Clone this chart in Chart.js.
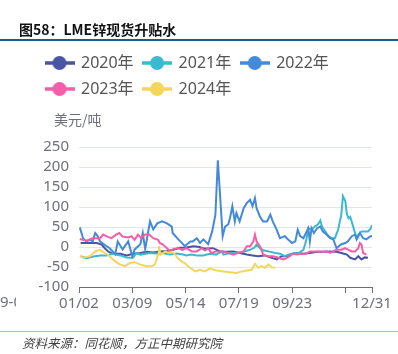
<!DOCTYPE html>
<html><head><meta charset="utf-8">
<script src="https://cdn.jsdelivr.net/npm/chart.js@4"></script>
<style>
html,body{margin:0;padding:0;background:#fff;}
#wrap{position:relative;width:398px;height:354px;overflow:hidden;background:#fff;}
#c{position:absolute;left:0;top:0;}
#title{position:absolute;left:19px;top:19px;font:bold 14px "Noto Sans CJK SC";color:#111;line-height:20px;white-space:nowrap;}
#topline{position:absolute;left:0;top:39px;width:398px;height:2px;background:#1d5d8c;}
#botline{position:absolute;left:0;top:331px;width:398px;height:1px;background:#a9c3d6;}
#src{position:absolute;left:22px;top:334px;font:italic 12.5px "Noto Sans CJK SC";color:#404040;line-height:17px;white-space:nowrap;}
</style></head>
<body>
<div id="wrap">
<canvas id="c" width="398" height="354"></canvas>
<div id="title">图58：LME锌现货升贴水</div>
<div id="topline"></div>
<div id="botline"></div>
<div id="src">资料来源：同花顺，方正中期研究院</div>
</div>
<script>
// ---- data ----
const seriesNames = ['2020年','2021年','2022年','2023年','2024年'];
const tickDays = [1,67,133,199,265,331,364];
const tickLabels = ['01/02','03/09','05/14','07/19','09/23','','12/31'];
const yUnit = '美元/吨';

const d2020 = [3,12,23,29,33,37,43,52,60,68,77,85,93,101,110,118,126,134,143,150,155,160,167,176,184,192,200,209,216,223,231,238,246,252,258,265,271,279,287,296,304,312,320,326,333,337,343,347,351,355,359];
const v2020 = [10,10,10,6,-3,-11,-17,-17,-21,-17,-15,-12,-14,-11,-10,-7,-2,-1,2,0,-3,-4,-3,-11,-12,-11,-15,-19,-21,-23,-21,-26,-31,-23,-23,-17,-15,-17,-15,-12,-12,-11,-12,-15,-19,-27,-31,-23,-31,-26,-27];

const d2021 = [3,10,19,27,35,43,52,60,68,72,77,83,89,97,105,114,122,130,134,140,147,155,163,171,178,180,188,196,205,213,218,221,227,236,244,250,256,260,266,273,279,281,283,285,289,293,297,300,302,306,310,314,318,322,326,328,331,333,335,337,340,343,345,347,351,355,359,362,364];
const v2021 = [-23,-28,-24,-21,-21,-17,-21,-26,-27,-15,-19,-17,-15,-16,-15,-19,-16,-19,-21,-19,-21,-21,-17,-19,-11,-19,-15,-15,-12,-7,-2,6,-7,-11,-15,-17,-23,-19,-17,-15,-7,6,22,47,43,51,56,66,51,39,27,22,22,43,81,127,114,81,72,75,56,35,22,31,39,39,39,45,55];

const d2022 = [2,6,10,15,18,21,24,27,33,39,46,49,55,62,67,70,77,80,83,89,93,98,104,110,116,117,124,129,132,139,142,147,151,155,161,166,170,173,176,179,182,186,188,191,194,196,200,205,209,213,216,219,221,225,229,234,238,241,246,250,256,260,265,269,272,275,279,285,287,289,292,296,300,303,308,312,316,320,326,331,334,339,343,345,349,353,357,362,364];
const v2022 = [49,22,14,18,14,35,28,14,5,-3,-18,14,-6,14,-23,-6,7,35,-5,64,44,59,64,59,51,35,19,9,2,14,14,22,10,19,7,39,81,217,122,27,51,57,72,102,64,85,64,97,110,118,102,122,97,77,64,64,81,64,43,22,27,19,10,14,43,27,22,47,14,47,35,47,51,39,31,22,19,-3,7,10,14,27,31,19,35,22,19,27,27];

const d2023 = [2,10,18,27,31,36,41,47,51,55,62,66,70,74,78,83,88,93,99,101,105,110,114,118,124,129,134,141,147,153,157,161,165,171,180,186,192,198,205,209,213,217,219,221,225,227,229,236,242,248,254,258,262,266,271,277,282,287,292,298,304,308,312,316,320,326,331,335,339,343,347,349,351,353,357];
const v2023 = [20,16,22,22,31,26,22,31,35,26,24,27,18,31,22,31,31,22,18,10,6,-3,-11,-5,-3,-7,-3,-11,-11,-3,-9,-3,-15,-11,-11,-15,-19,-15,-11,2,2,14,31,14,2,-5,-19,-23,-23,-27,-31,-28,-23,-17,-19,-17,-17,-11,-11,-11,-12,-11,-15,-11,-7,-7,-3,-7,-11,-11,-3,10,6,-15,-19];

const d2024 = [2,6,15,21,27,33,39,46,52,58,64,70,77,85,91,95,99,100,102,108,112,116,120,124,128,132,136,141,145,151,157,163,172,180,188,196,203,209,215,219,223,227,231,236,240,244];
const v2024 = [-23,-27,-23,-11,-7,-15,-23,-36,-44,-48,-40,-38,-44,-48,-48,-44,-19,2,-19,-11,-15,-12,-19,-29,-36,-40,-48,-55,-61,-57,-61,-54,-59,-61,-63,-65,-61,-59,-57,-42,-52,-48,-52,-44,-51,-52];

const colors = ['#4a55a2','#3bb9d1','#4589d9','#f45ea9','#f4d65a'];
const dayArrays = [d2020,d2021,d2022,d2023,d2024];
const valArrays = [v2020,v2021,v2022,v2023,v2024];

function marker(color){
  const c=document.createElement('canvas'); c.width=30; c.height=16;
  const g=c.getContext('2d');
  g.strokeStyle=color; g.lineWidth=3.5;
  g.beginPath(); g.moveTo(0,8); g.lineTo(30,8); g.stroke();
  g.fillStyle=color; g.beginPath(); g.arc(15,8,7,0,Math.PI*2); g.fill();
  return c;
}

const datasets = seriesNames.map((name,i)=>({
  label: name,
  data: dayArrays[i].map((d,k)=>({x:d, y:valArrays[i][k]})),
  borderColor: colors[i],
  backgroundColor: colors[i],
  borderWidth: 2,
  pointRadius: 0,
  pointHoverRadius: 0,
  pointStyle: marker(colors[i]),
  tension: 0,
  order: 5-i
}));

const GAP = 40;
const legendGap = {
  id:'legendGap',
  beforeInit(chart){
    const orig = chart.legend.fit;
    chart.legend.fit = function(){ orig.call(this); this.height += GAP; };
  }
};
const extras = {
  id:'extras',
  afterDraw(chart){
    const ctx = chart.ctx, a = chart.chartArea;
    ctx.save();
    ctx.fillStyle = '#6e7079';
    ctx.font = '14px "Noto Sans CJK SC", "Noto Sans", sans-serif';
    ctx.textAlign = 'left'; ctx.textBaseline = 'middle';
    ctx.fillText(yUnit, 54, 120);
    ctx.beginPath(); ctx.rect(0, a.bottom+4, 16, 26); ctx.clip();
    ctx.font = '15px "Noto Sans", sans-serif';
    ctx.fillText('9-0', 0, a.bottom+16);
    ctx.restore();
  }
};

Chart.defaults.font.family = '"Noto Sans", "Noto Sans CJK SC", sans-serif';
new Chart(document.getElementById('c'), {
  type:'line',
  data:{datasets},
  plugins:[legendGap, extras],
  options:{
    responsive:false, animation:false, devicePixelRatio:1,
    layout:{padding:{top:45,left:36,right:26,bottom:39}},
    plugins:{
      legend:{
        position:'top', align:'start',
        labels:{usePointStyle:true, pointStyleWidth:27, padding:10, color:'#555', font:{size:16},
          sort:(a,b)=>a.datasetIndex-b.datasetIndex}
      },
      tooltip:{enabled:false}
    },
    scales:{
      x:{
        type:'linear', min:1, max:364,
        afterBuildTicks:(s)=>{ s.ticks = tickDays.map(v=>({value:v})); },
        ticks:{autoSkip:false, maxRotation:0, padding:2, color:'#6e7079', font:{size:15},
          callback:(v)=>{ const k=tickDays.indexOf(v); return k>=0?tickLabels[k]:''; }},
        grid:{display:true, drawOnChartArea:false, drawTicks:true, tickLength:6, color:'#6e7079'},
        border:{display:true, color:'#6e7079', width:1}
      },
      y:{
        min:-100, max:250,
        afterFit:(s)=>{ s.width = 43; },
        ticks:{stepSize:50, autoSkip:false, padding:10, color:'#6e7079', font:{size:15}},
        grid:{color:'#e0e6f1', drawTicks:false},
        border:{display:false}
      }
    }
  }
});
</script>
</body></html>
